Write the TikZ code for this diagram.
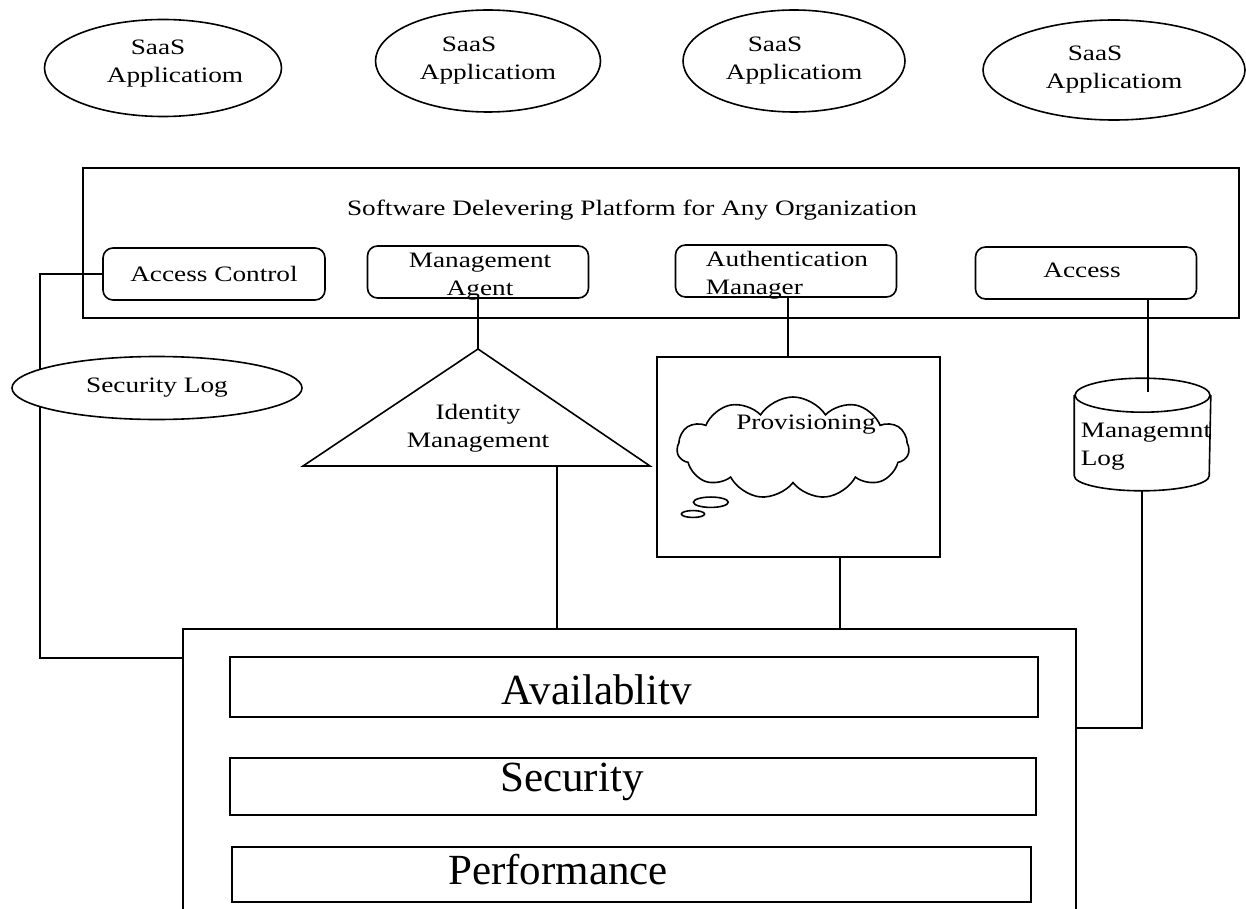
\documentclass[tikz,border=0pt]{standalone}
\usepackage{fontspec}
\setmainfont{Liberation Serif}
\newfontfamily\wideserif[FakeStretch=1.24]{Liberation Serif}
\usetikzlibrary{shapes.geometric,shapes.callouts,calc}
\begin{document}
\begin{tikzpicture}[x=1pt,y=-1pt, line width=1.6pt,
  lbl/.style={font=\wideserif\fontsize{22}{28}\selectfont},
  app/.style={draw, ellipse, fill=white, inner sep=0pt, lbl, align=left},
  rbox/.style={draw, rounded corners=10pt, inner sep=0pt, lbl, align=left},
  sqbox/.style={draw, rectangle, inner sep=0pt},
  big/.style={font=\fontsize{43}{46}\selectfont, inner sep=0pt}]
\clip (0,0) rectangle (1246,909);
\fill[white] (0,0) rectangle (1246,909);

% SaaS applications
\node (s1) [app, minimum width=237, minimum height=97] at (163,68) {};
\node (s1t) [lbl, align=left, inner sep=0pt] at (175,64) {\hspace*{24pt}SaaS\\Applicatiom};
\node (s2) [app, minimum width=225, minimum height=102] at (488,61) {\hspace*{22pt}SaaS\\Applicatiom};
\node (s3) [app, minimum width=222, minimum height=102] at (794,61) {\hspace*{22pt}SaaS\\Applicatiom};
\node (s4) [app, minimum width=262, minimum height=100] at (1114,70) {\hspace*{22pt}SaaS\\Applicatiom};

% platform
\node (plat) [sqbox, minimum width=1156, minimum height=150, anchor=north west] at (82,167) {};
\node (ptitle) [lbl, inner sep=0pt] at (632,210) {Software Delevering Platform for Any Organization};
\node (ac) [rbox, minimum width=222, minimum height=52] at (214,274) {Access Control};
\node (ma) [rbox, minimum width=221, minimum height=52] at (478,272) {};
\node (mat) [lbl, align=center, inner sep=0pt] at (480,277) {Management\\Agent};
\node (am) [rbox, minimum width=221, minimum height=52] at (786,271) {};
\node (amt) [lbl, align=left, inner sep=0pt] at (787,275) {Authentication\\Manager};
\node (acc) [rbox, minimum width=221, minimum height=52] at (1086,273) {};
\node (acct) [lbl, inner sep=0pt] at (1082,270) {Access};

% bottom box
\node (bot) [sqbox, minimum width=893, minimum height=300, anchor=north west] at (182,628) {};
\node (av) [sqbox, minimum width=808, minimum height=60] at (634,687) {};
\node (avt) [big] at (597,690) {Availablitv};
\node (se) [sqbox, minimum width=806, minimum height=57] at (633,786.5) {};
\node (set) [big] at (572,782) {Security};
\node (pe) [sqbox, minimum width=799, minimum height=55] at (631.5,874.5) {};
\node (pet) [big] at (558,870) {Performance};

% left connector through security log
\coordinate (lcorner) at (40,658);
\draw (ac.west) -| (lcorner) -- (lcorner -| bot.west);
\node (slog) [app, minimum width=290, minimum height=63] at (157,388) {Security Log};

% identity management triangle
\coordinate (apex) at (478,349);
\coordinate (bl) at (303,466);
\coordinate (br) at (650,466);
\draw (apex) -- (br) -- (bl) -- cycle;
\node (idm) [lbl, align=center, inner sep=0pt] at (478,428) {Identity\\Management};
\draw (ma.south) -- (apex);
\coordinate (tribase) at (557,466);
\draw (tribase) -- (tribase |- bot.north);

% provisioning
\node (prov) [sqbox, minimum width=283, minimum height=200] at (798.5,457) {};
\coordinate (amout) at (788,297);
\draw (am.south -| amout) -- (prov.north -| amout);
\node (cloud) [draw, cloud callout, cloud puffs=11, cloud puff arc=115, aspect=2.2,
  minimum width=232, minimum height=102, inner sep=0pt,
  callout absolute pointer={(693,514)}] at (793,448) {};
\node (provt) [lbl, inner sep=0pt] at (806,425) {Provisioning};
\coordinate (provout) at (840,557);
\draw (provout) -- (provout |- bot.north);

% management log cylinder
\node (mlog) [minimum width=135, minimum height=111, inner sep=0pt] at (1142.5,434.5) {};
\draw[fill=white] ($(mlog.north west)+(0,17)$)
  -- ($(mlog.south west)+(0,-15)$)
  arc[start angle=180, end angle=0, x radius=67.5, y radius=15]
  -- ($(mlog.north east)+(0,17)$);
\draw[fill=white] ($(mlog.north)+(0,17)$) ellipse[x radius=67.5, y radius=17];
\node (mlogt) [lbl, align=left, anchor=west, inner sep=0pt] at (1080,447) {Managemnt\\Log};
\coordinate (mlogin) at (1148,392);
\draw (acc.south -| mlogin) -- (mlogin);
\coordinate (rcorner) at (1142,728);
\draw (mlog.south -| rcorner) -- (rcorner) -- (rcorner -| bot.east);
\end{tikzpicture}
\end{document}
